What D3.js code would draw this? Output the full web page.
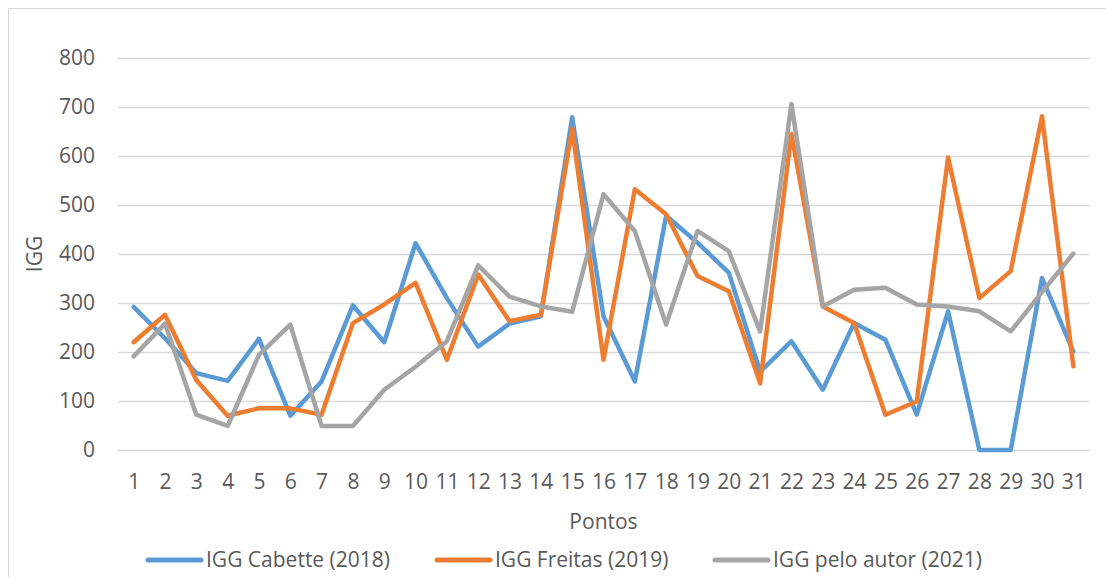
<!DOCTYPE html>
<html>
<head>
<meta charset="utf-8">
<script src="https://cdn.jsdelivr.net/npm/d3@7"></script>
<style>
  body { margin: 0; background: #fff; }
  text { font-family: "Open Sans", sans-serif; fill: #595959; }
</style>
</head>
<body>
<svg id="chart"></svg>
<script>
var pontos = d3.range(1, 32);
var cabette = [292, 228, 157, 141, 227, 70, 140, 295, 220, 422, 310, 211, 258, 273, 679, 273, 140, 478, 423, 362, 160, 222, 123, 259, 225, 72, 283, 0, 0, 351, 201];
var freitas = [220, 276, 143, 70, 85, 85, 72, 259, 297, 341, 184, 358, 263, 276, 656, 184, 532, 481, 355, 324, 136, 645, 293, 259, 72, 99, 597, 310, 365, 681, 171];
var autor = [191, 258, 72, 49, 194, 256, 49, 49, 123, 170, 222, 377, 313, 293, 282, 522, 447, 256, 447, 406, 242, 706, 293, 327, 331, 297, 293, 283, 242, 322, 401];
var yTicks = [0, 100, 200, 300, 400, 500, 600, 700, 800];

var series = [
    {name: "IGG Cabette (2018)", values: cabette, color: "#5B9BD5"},
    {name: "IGG Freitas (2019)", values: freitas, color: "#ED7D31"},
    {name: "IGG pelo autor (2021)", values: autor, color: "#A5A5A5"}
];

var width = 1106;
var height = 577;
var margin = {top: 58, left: 118, right: 17, bottom: 127};

var svg = d3.select("#chart")
    .attr("width", width)
    .attr("height", height);

// chart frame
svg.append("rect")
    .attr("x", 8.5).attr("y", 8.5)
    .attr("width", width).attr("height", height)
    .attr("fill", "none")
    .attr("stroke", "#D9D9D9");

var xScale = d3.scalePoint()
    .domain(pontos)
    .range([margin.left, width - margin.right])
    .padding(0.5);

var yScale = d3.scaleLinear()
    .domain([0, 800])
    .range([height - margin.bottom, margin.top]);

// y axis with grid
var yAxis = svg.append("g")
    .attr("transform", "translate(" + margin.left + ",0)")
    .call(d3.axisLeft(yScale).tickValues(yTicks)
        .tickSize(-(width - margin.left - margin.right))
        .tickPadding(23));
yAxis.select(".domain").remove();
yAxis.selectAll("line").attr("stroke", "#D9D9D9").attr("stroke-width", 1.5);
yAxis.selectAll("text")
    .style("font-size", "21px")
    .attr("font-family", "Open Sans")
    .attr("fill", "#595959");

// x axis labels
var xAxis = svg.append("g")
    .attr("transform", "translate(0," + (height - margin.bottom) + ")")
    .call(d3.axisBottom(xScale).tickSize(0).tickPadding(24));
xAxis.select(".domain").remove();
xAxis.selectAll("text")
    .style("font-size", "21px")
    .attr("font-family", "Open Sans")
    .attr("fill", "#595959");

// axis titles
svg.append("text")
    .attr("x", (margin.left + width - margin.right) / 2)
    .attr("y", 529)
    .attr("text-anchor", "middle")
    .style("font-size", "21px")
    .text("Pontos");

svg.append("text")
    .attr("transform", "translate(42," + ((margin.top + height - margin.bottom) / 2) + ")rotate(-90)")
    .attr("text-anchor", "middle")
    .style("font-size", "21px")
    .text("IGG");

var line = d3.line()
    .x(function (d, i) { return xScale(pontos[i]); })
    .y(function (d) { return yScale(d); });

svg.selectAll(".serie")
    .data(series)
    .enter().append("path")
    .attr("class", "serie")
    .attr("d", function (d) { return line(d.values); })
    .attr("fill", "none")
    .attr("stroke", function (d) { return d.color; })
    .attr("stroke-width", 4.5)
    .attr("stroke-linejoin", "round")
    .attr("stroke-linecap", "round");

// legend
var legendX = [148, 437, 715];
var legend = svg.selectAll(".legend")
    .data(series)
    .enter().append("g")
    .attr("class", "legend")
    .attr("transform", function (d, i) { return "translate(" + legendX[i] + ",560)"; });
legend.append("line")
    .attr("x1", 0).attr("x2", 53)
    .attr("stroke", function (d) { return d.color; })
    .attr("stroke-width", 5)
    .attr("stroke-linecap", "round");
legend.append("text")
    .attr("x", 58)
    .attr("y", 7)
    .style("font-size", "21px")
    .text(function (d) { return d.name; });
</script>
</body>
</html>
